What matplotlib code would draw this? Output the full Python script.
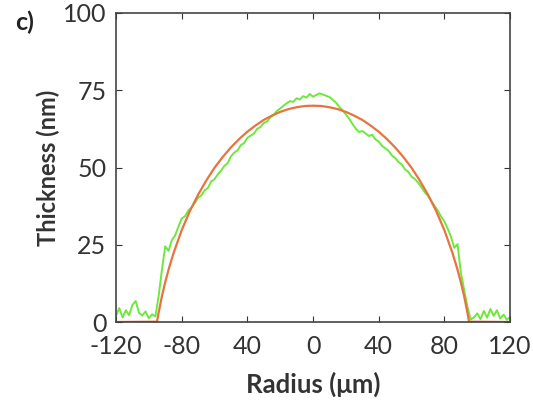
import numpy as np
import matplotlib.pyplot as plt

plt.rcParams['font.family'] = ['Lato', 'DejaVu Sans']

# measured profile (green), radius in um, thickness in nm
radius = np.arange(-120, 121, 2)
thickness = [2.0, 4.5, 1.5, 3.8, 2.2, 5.5, 6.8, 3.0, 2.1, 3.4, 1.2, 2.5, 1.8,
             8.5, 17.0, 24.5, 23.0, 26.5, 28.0, 30.8, 33.5, 34.2, 36.0, 37.1,
             38.5, 40.2, 41.0, 42.6, 43.4, 45.5, 46.2, 47.8, 49.0, 50.5, 51.4,
             53.6, 54.8, 55.5, 57.2, 57.9, 59.6, 60.3, 61.0, 62.5, 63.1, 64.4,
             64.9, 66.2, 67.0, 68.3, 69.1, 70.0, 70.8, 71.5, 71.2, 72.4, 72.0,
             73.1, 72.6, 73.8, 72.9, 73.5, 74.0, 73.6, 73.2, 72.8, 71.9, 71.0,
             69.6, 68.5, 67.2, 65.8, 64.1, 62.6, 61.5, 61.8, 61.0, 60.2, 60.6,
             59.1, 58.4, 57.0, 56.2, 55.4, 53.9, 53.1, 51.8, 51.0, 49.4, 48.6,
             47.0, 46.3, 45.1, 43.6, 42.0, 40.8, 39.2, 37.6, 36.0, 34.1, 32.5,
             30.2, 27.6, 24.0, 25.2, 16.0, 10.5, 5.0, 0.8, 1.5, 2.8, 0.9, 3.6,
             1.4, 4.2, 2.0, 3.8, 1.1, 2.4, 0.7, 1.6]

# fitted cap profile (orange)
fit_r = [-120, -95, -94, -92, -90, -88, -85, -80, -75, -70, -65, -60, -55, -50,
         -45, -40, -35, -30, -25, -20, -15, -10, -5, 0, 5, 10, 15, 20, 25, 30,
         35, 40, 45, 50, 55, 60, 65, 70, 75, 80, 85, 88, 90, 92, 94, 95, 120]
fit_t = [0, 0.1, 3.1, 8.4, 12.9, 16.9, 22.2, 29.7, 35.9, 41.2, 45.8, 49.9, 53.4,
         56.5, 59.2, 61.6, 63.6, 65.4, 66.8, 68.0, 68.9, 69.5, 69.9, 70.0, 69.9,
         69.5, 68.9, 68.0, 66.8, 65.4, 63.6, 61.6, 59.2, 56.5, 53.4, 49.9, 45.8,
         41.2, 35.9, 29.7, 22.2, 16.9, 12.9, 8.4, 3.1, 0.1, 0]

xticks = [-120, -80, -40, 0, 40, 80, 120]
xlabels = ['-120', '-80', '40', '0', '40', '80', '120']
yticks = [0, 25, 50, 75, 100]

fig = plt.figure(figsize=(5.33, 4), dpi=100)
ax = fig.add_axes([0.2176, 0.195, 0.7394, 0.7725])

ax.plot(radius, thickness, color='#6ee83c', lw=1.4)
ax.plot(fit_r, fit_t, color='#e8733e', lw=1.6)

ax.set_xlim(-120, 120)
ax.set_ylim(0, 100)
ax.set_xticks(xticks)
ax.set_xticklabels(xlabels)
ax.set_yticks(yticks)
ax.tick_params(direction='in', top=True, right=True, length=4, width=0.8,
               labelsize=18, colors='#333333')
ax.tick_params(axis='x', pad=9)
ax.tick_params(axis='y', pad=7)
for s in ax.spines.values():
    s.set_color('#444444')
    s.set_linewidth(1.2)

ax.set_xlabel('Radius (\u03bcm)', fontsize=18.5, fontweight='bold', color='#333333', labelpad=10)
ax.set_ylabel('Thickness (nm)', fontsize=17, fontweight='bold', color='#333333', labelpad=2)
fig.text(0.028, 0.925, 'c)', fontsize=18, fontweight='bold', color='#222222')

fig.savefig('out.png', dpi=100)
